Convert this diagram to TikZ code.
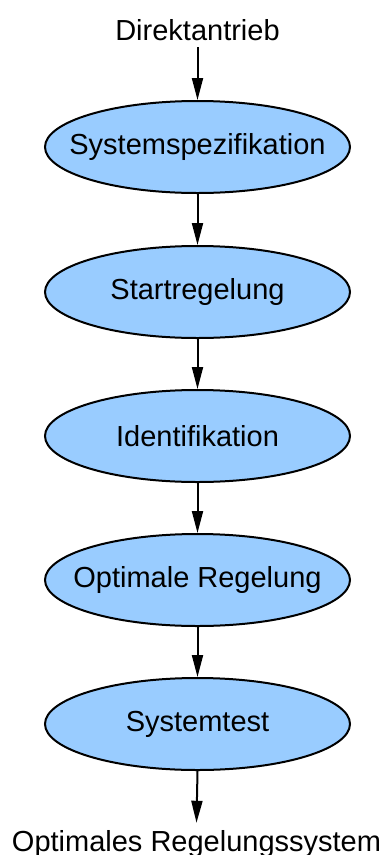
\documentclass[tikz,border=0pt]{standalone}
\usepackage{fontspec}
\setmainfont{Liberation Sans}
\usetikzlibrary{shapes.geometric,arrows.meta}
\definecolor{boxblue}{RGB}{153,204,255}
\begin{document}
\begin{tikzpicture}[x=1pt,y=-1pt,
  every node/.style={font=\fontsize{29}{34}\selectfont},
  el/.style={ellipse,draw=black,line width=2pt,fill=boxblue,minimum width=305pt,minimum height=92pt,inner sep=0pt},
  term/.style={inner xsep=2pt,inner ysep=7pt,text depth=0pt},
  arr/.style={-{Triangle[length=22pt,width=11pt]},line width=2pt,black}]
\useasboundingbox (0,0) rectangle (387,855);
\node[term,anchor=base] (start) at (197.5,40) {Direktantrieb};
\node[el] (s1) at (197.5,147) {\makebox[0pt]{Systemspezifikation}};
\node[el] (s2) at (197.5,292) {\makebox[0pt]{Startregelung}};
\node[el] (s3) at (197.5,436) {\makebox[0pt]{Identifikation}};
\node[el] (s4) at (197.5,580) {\makebox[0pt]{Optimale Regelung}};
\node[el] (s5) at (197.5,724) {\makebox[0pt]{Systemtest}};
\node[term,anchor=base] (end) at (196.5,851) {Optimales Regelungssystem};
\draw[arr] (start.south) -- (s1.north);
\draw[arr] (s1.south) -- (s2.north);
\draw[arr] (s2.south) -- (s3.north);
\draw[arr] (s3.south) -- (s4.north);
\draw[arr] (s4.south) -- (s5.north);
\draw[arr] (s5.south) -- (end.north);
\end{tikzpicture}
\end{document}
